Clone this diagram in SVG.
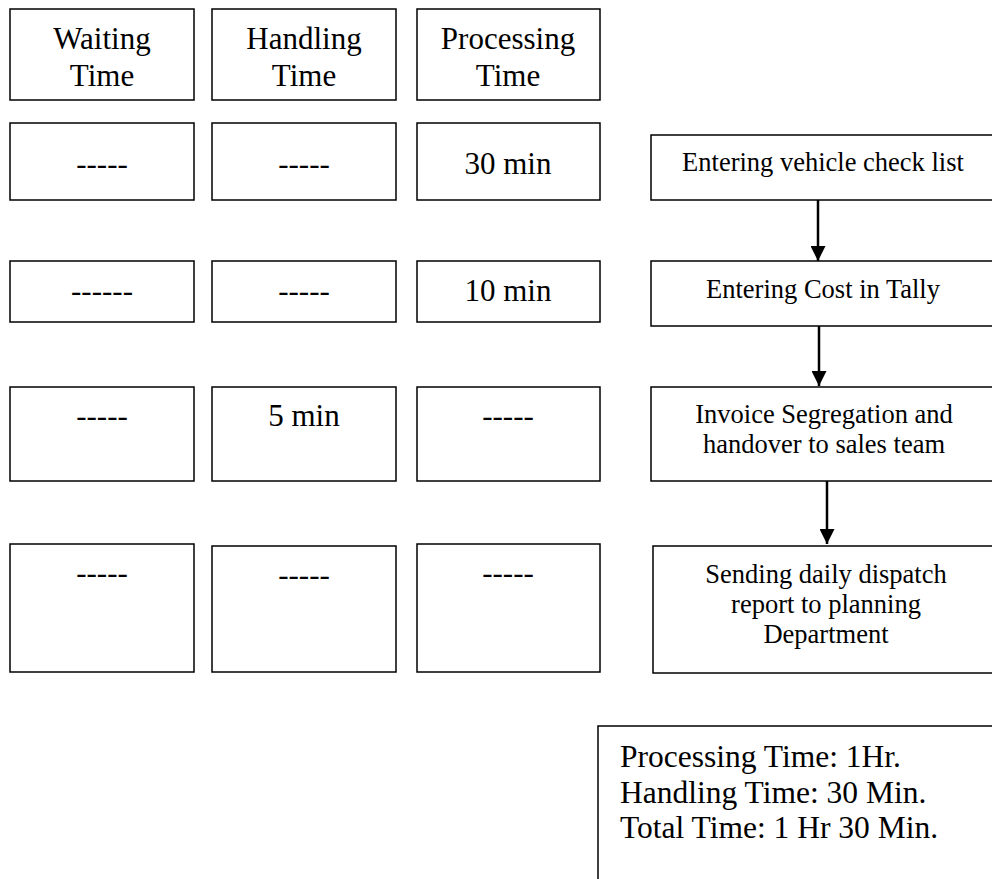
<svg xmlns="http://www.w3.org/2000/svg" width="992" height="879" viewBox="0 0 992 879">
  <style>
    .box { fill: #ffffff; stroke: #000000; stroke-width: 1.5; }
    .big { font-family: "Liberation Serif", "Times New Roman", serif; font-size: 31px; fill: #000000; text-anchor: middle; }
    .step { font-family: "Liberation Serif", "Times New Roman", serif; font-size: 26.5px; fill: #000000; text-anchor: middle; }
    .sum { font-family: "Liberation Serif", "Times New Roman", serif; font-size: 31.5px; fill: #000000; }
    .arrow { stroke: #000000; stroke-width: 2.5; fill: none; marker-end: url(#head); }
  </style>
  <defs>
    <marker id="head" viewBox="0 0 10 10" refX="10" refY="5" markerWidth="6" markerHeight="6" markerUnits="strokeWidth" orient="auto">
      <path d="M0,0 L10,5 L0,10 z" fill="#000000"/>
    </marker>
  </defs>
  <rect width="992" height="879" fill="#ffffff"/>

  <!-- column headers -->
  <g id="hdr-waiting">
    <rect class="box" x="10" y="9" width="184" height="91"/>
    <text class="big" x="102" y="49">Waiting</text>
    <text class="big" x="102" y="86">Time</text>
  </g>
  <g id="hdr-handling">
    <rect class="box" x="212" y="9" width="184" height="91"/>
    <text class="big" x="304" y="49">Handling</text>
    <text class="big" x="304" y="86">Time</text>
  </g>
  <g id="hdr-processing">
    <rect class="box" x="417" y="9" width="183" height="91"/>
    <text class="big" x="508" y="49">Processing</text>
    <text class="big" x="508" y="86">Time</text>
  </g>

  <!-- row 1 -->
  <g id="r1-wait"><rect class="box" x="10" y="123" width="184" height="77"/><text class="big" x="102" y="174">-----</text></g>
  <g id="r1-hand"><rect class="box" x="212" y="123" width="184" height="77"/><text class="big" x="304" y="174">-----</text></g>
  <g id="r1-proc"><rect class="box" x="417" y="123" width="183" height="77"/><text class="big" x="508" y="174">30 min</text></g>

  <!-- row 2 -->
  <g id="r2-wait"><rect class="box" x="10" y="261" width="184" height="61"/><text class="big" x="102" y="301">------</text></g>
  <g id="r2-hand"><rect class="box" x="212" y="261" width="184" height="61"/><text class="big" x="304" y="301">-----</text></g>
  <g id="r2-proc"><rect class="box" x="417" y="261" width="183" height="61"/><text class="big" x="508" y="301">10 min</text></g>

  <!-- row 3 -->
  <g id="r3-wait"><rect class="box" x="10" y="387" width="184" height="94"/><text class="big" x="102" y="426">-----</text></g>
  <g id="r3-hand"><rect class="box" x="212" y="387" width="184" height="94"/><text class="big" x="304" y="426">5 min</text></g>
  <g id="r3-proc"><rect class="box" x="417" y="387" width="183" height="94"/><text class="big" x="508" y="426">-----</text></g>

  <!-- row 4 -->
  <g id="r4-wait"><rect class="box" x="10" y="544" width="184" height="128"/><text class="big" x="102" y="583">-----</text></g>
  <g id="r4-hand"><rect class="box" x="212" y="546" width="184" height="126"/><text class="big" x="304" y="585">-----</text></g>
  <g id="r4-proc"><rect class="box" x="417" y="544" width="183" height="128"/><text class="big" x="508" y="583">-----</text></g>

  <!-- process steps -->
  <g id="step1">
    <rect class="box" x="651" y="135" width="350" height="65"/>
    <text class="step" x="823" y="171">Entering vehicle check list</text>
  </g>
  <g id="step2">
    <rect class="box" x="651" y="261" width="350" height="65"/>
    <text class="step" x="823" y="298">Entering Cost in Tally</text>
  </g>
  <g id="step3">
    <rect class="box" x="651" y="387" width="350" height="94"/>
    <text class="step" x="824" y="423">Invoice Segregation and</text>
    <text class="step" x="824" y="453">handover to sales team</text>
  </g>
  <g id="step4">
    <rect class="box" x="653" y="546" width="350" height="127"/>
    <text class="step" x="826" y="583">Sending daily dispatch</text>
    <text class="step" x="826" y="613">report to planning</text>
    <text class="step" x="826" y="643">Department</text>
  </g>

  <!-- summary -->
  <g id="summary">
    <rect class="box" x="598" y="726" width="410" height="170"/>
    <text class="sum" x="620" y="767">Processing Time: 1Hr.</text>
    <text class="sum" x="620" y="803">Handling Time: 30 Min.</text>
    <text class="sum" x="620" y="838">Total Time: 1 Hr 30 Min.</text>
  </g>

  <!-- connectors -->
  <g id="connectors">
    <line class="arrow" x1="818" y1="200" x2="818" y2="261"/>
    <line class="arrow" x1="819" y1="326" x2="819" y2="386"/>
    <line class="arrow" x1="827" y1="481" x2="827" y2="544"/>
  </g>
</svg>
